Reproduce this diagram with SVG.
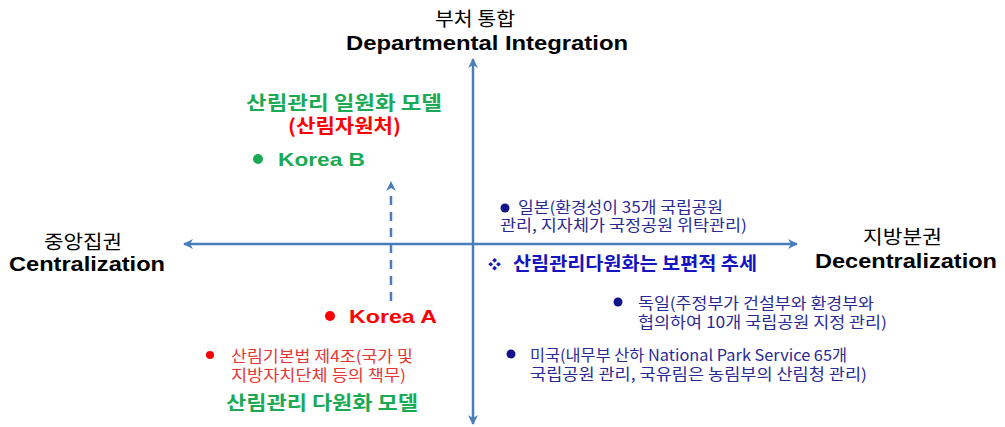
<svg xmlns="http://www.w3.org/2000/svg" width="1005" height="427" viewBox="0 0 1005 427">
<style>
.ko{font-family:"Noto Sans CJK KR","Noto Sans",sans-serif;}
.en{font-family:"Liberation Sans",Arial,sans-serif;font-weight:bold;}
.kb{font-family:"Noto Sans CJK KR","Noto Sans",sans-serif;font-weight:bold;}
.axis{stroke:#4a7ebb;stroke-width:2.5;fill:none;}
.green{fill:#1aaa55;}
.red{fill:#ff0000;}
.lred{fill:#e83535;}
.navy{fill:#2a2a95;}
.dnavy{fill:#14148a;}
.blue{fill:#1414c0;}
.black{fill:#000000;}
</style>
<defs>
<marker id="ah" viewBox="0 0 10 10" refX="9" refY="5" markerWidth="4" markerHeight="4" orient="auto" markerUnits="strokeWidth">
<path d="M0,0 L10,5 L0,10 L3,5 Z" fill="#4a7ebb"/>
</marker>
</defs>
<rect width="1005" height="427" fill="#ffffff"/>
<g id="connectors">
<line class="axis" x1="473" y1="243" x2="473" y2="59" marker-end="url(#ah)"/>
<line class="axis" x1="473" y1="243" x2="473" y2="424" marker-end="url(#ah)"/>
<line class="axis" x1="473" y1="244" x2="184" y2="244" marker-end="url(#ah)"/>
<line class="axis" x1="473" y1="244" x2="797" y2="244" marker-end="url(#ah)"/>
<line class="axis" x1="391" y1="301" x2="391" y2="192" stroke-dasharray="9,7"/>
<path d="M391,181 L396,191 L391,188 L386,191 Z" fill="#4a7ebb"/>
</g>
<g id="top-label">
<text class="ko black" x="475" y="26" font-size="19" text-anchor="middle" textLength="80" lengthAdjust="spacingAndGlyphs">부처 통합</text>
<text class="en black" x="346" y="50" font-size="20" textLength="282" lengthAdjust="spacingAndGlyphs">Departmental Integration</text>
</g>
<g id="left-label">
<text class="ko black" x="44" y="249" font-size="19" textLength="78" lengthAdjust="spacingAndGlyphs">중앙집권</text>
<text class="en black" x="9" y="271" font-size="20" textLength="156" lengthAdjust="spacingAndGlyphs">Centralization</text>
</g>
<g id="right-label">
<text class="ko black" x="863" y="244" font-size="19" textLength="79" lengthAdjust="spacingAndGlyphs">지방분권</text>
<text class="en black" x="815" y="268" font-size="20" textLength="182" lengthAdjust="spacingAndGlyphs">Decentralization</text>
</g>
<g id="unified-model">
<text class="kb green" x="246" y="110" font-size="19" textLength="196" lengthAdjust="spacingAndGlyphs">산림관리 일원화 모델</text>
<text class="kb red" x="288" y="133" font-size="19" textLength="113" lengthAdjust="spacingAndGlyphs">(산림자원처)</text>
</g>
<g id="korea-b">
<circle cx="258" cy="159" r="5" class="green"/>
<text class="en green" x="278" y="166" font-size="19" textLength="87" lengthAdjust="spacingAndGlyphs">Korea B</text>
</g>
<g id="korea-a">
<circle cx="330" cy="316" r="5" class="red"/>
<text class="en red" x="349" y="323" font-size="19" textLength="88" lengthAdjust="spacingAndGlyphs">Korea A</text>
</g>
<g id="forest-law">
<circle cx="210" cy="355" r="4" class="red"/>
<text class="ko lred" x="231" y="362" font-size="15.5" textLength="182" lengthAdjust="spacingAndGlyphs">산림기본법 제4조(국가 및</text>
<text class="ko lred" x="231" y="381" font-size="15.5" textLength="175" lengthAdjust="spacingAndGlyphs">지방자치단체 등의 책무)</text>
</g>
<g id="diversified-model">
<text class="kb green" x="226" y="410" font-size="19" textLength="192" lengthAdjust="spacingAndGlyphs">산림관리 다원화 모델</text>
</g>
<g id="japan">
<circle cx="505" cy="208" r="4.5" class="dnavy"/>
<text class="ko navy" x="518" y="213" font-size="15.5" textLength="205" lengthAdjust="spacingAndGlyphs">일본(환경성이 35개 국립공원</text>
<text class="ko navy" x="500" y="231" font-size="15.5" textLength="247" lengthAdjust="spacingAndGlyphs">관리, 지자체가 국정공원 위탁관리)</text>
</g>
<g id="trend">
<text class="kb blue" x="488" y="269" font-size="13">❖</text>
<text class="kb blue" x="513" y="270" font-size="18" textLength="244" lengthAdjust="spacingAndGlyphs">산림관리다원화는 보편적 추세</text>
</g>
<g id="germany">
<circle cx="618" cy="302" r="4.5" class="dnavy"/>
<text class="ko navy" x="638" y="309" font-size="15.5" textLength="236" lengthAdjust="spacingAndGlyphs">독일(주정부가 건설부와 환경부와</text>
<text class="ko navy" x="638" y="328" font-size="15.5" textLength="249" lengthAdjust="spacingAndGlyphs">협의하여 10개 국립공원 지정 관리)</text>
</g>
<g id="usa">
<circle cx="511" cy="354" r="4.5" class="dnavy"/>
<text class="ko navy" x="530" y="361" font-size="15.5" textLength="317" lengthAdjust="spacingAndGlyphs">미국(내무부 산하 National Park Service 65개</text>
<text class="ko navy" x="530" y="380" font-size="15.5" textLength="337" lengthAdjust="spacingAndGlyphs">국립공원 관리, 국유림은 농림부의 산림청 관리)</text>
</g>
</svg>
